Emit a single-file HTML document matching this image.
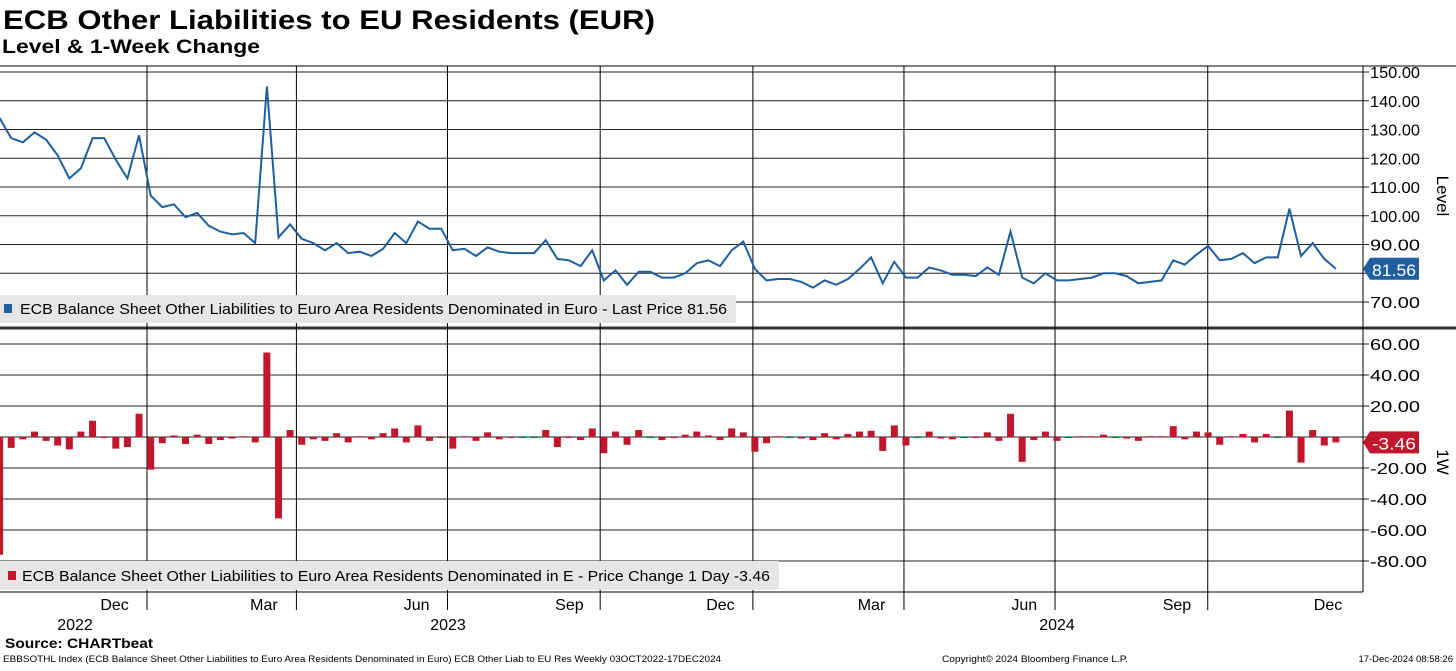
<!DOCTYPE html>
<html><head><meta charset="utf-8"><style>
body{margin:0;background:#fff;width:1456px;height:666px;overflow:hidden;font-family:"Liberation Sans","DejaVu Sans",sans-serif}
svg text{font-family:"Liberation Sans","DejaVu Sans",sans-serif}
</style></head><body>
<svg id="c" width="1456" height="666" xmlns="http://www.w3.org/2000/svg">
<text x="3" y="29" font-size="27" font-weight="bold" textLength="652" lengthAdjust="spacingAndGlyphs">ECB Other Liabilities to EU Residents (EUR)</text>
<text x="2" y="53" font-size="19" font-weight="bold" textLength="258" lengthAdjust="spacingAndGlyphs">Level &amp; 1-Week Change</text>
<g id="grid"></g>
<g id="marks"></g>
<g id="axes"></g>
<text x="5" y="648" font-size="14" font-weight="bold" textLength="148" lengthAdjust="spacingAndGlyphs">Source: CHARTbeat</text>
<text x="3" y="662" font-size="9.5" textLength="718" lengthAdjust="spacingAndGlyphs">EBBSOTHL Index (ECB Balance Sheet Other Liabilities to Euro Area Residents Denominated in Euro) ECB Other Liab to EU Res  Weekly 03OCT2022-17DEC2024</text>
<text x="942" y="662" font-size="9.5" textLength="186" lengthAdjust="spacingAndGlyphs">Copyright© 2024 Bloomberg Finance L.P.</text>
<text x="1453" y="662" font-size="9.5" text-anchor="end">17-Dec-2024 08:58:26</text>
</svg>
<script>
const startDate = "2022-10-03";
const levels = [134,127,125.5,129,126.5,121,113,116.5,127,127,119.5,113,128,107,103,104,99.5,101,96.5,94.5,93.5,94,90.5,145,92.5,97,92,90.5,88,90.5,87,87.5,86,88.5,94,90.5,98,95.5,95.5,88,88.5,86,89,87.5,87,87,87,91.5,85,84.5,82.5,88,77.5,81,76,80.5,80.5,78.5,78.5,80,83.5,84.5,82.5,88,91,81.5,77.5,78,78,77,75,77.5,76,78,81.5,85.5,76.5,84,78.5,78.5,82,81,79.5,79.5,79,82,79.5,94.5,78.5,76.5,80,77.5,77.5,78,78.5,80,80,79,76.5,77,77.5,84.5,83,86.5,89.5,84.5,85,87,83.5,85.5,85.5,102.5,86,90.5,85,81.56];
const changes = [-76,-7,-1.5,3.5,-2.5,-5.5,-8,3.5,10.5,0,-7.5,-6.5,15,-21,-4,1,-4.5,1.5,-4.5,-2,-1,0.5,-3.5,54.5,-52.5,4.5,-5,-1.5,-2.5,2.5,-3.5,0.5,-1.5,2.5,5.5,-3.5,7.5,-2.5,0,-7.5,0.5,-2.5,3,-1.5,-0.5,0,0,4.5,-6.5,-0.5,-2,5.5,-10.5,3.5,-5,4.5,0,-2,0,1.5,3.5,1,-2,5.5,3,-9.5,-4,0.5,0,-1,-2,2.5,-1.5,2,3.5,4,-9,7.5,-5.5,0,3.5,-1,-1.5,0,-0.5,3,-2.5,15,-16,-2,3.5,-2.5,0,0.5,0.5,1.5,0,-1,-2.5,0.5,0.5,7,-1.5,3.5,3,-5,0.5,2,-3.5,2,0,17,-16.5,4.5,-5.5,-3.46];
const levelTicks = [150,140,130,120,110,100,90,80,70];
const changeTicks = [60,40,20,0,-20,-40,-60,-80];
const monthLabels = [["Dec","2022-12-01"],["Mar","2023-03-01"],["Jun","2023-06-01"],["Sep","2023-09-01"],["Dec","2023-12-01"],["Mar","2024-03-01"],["Jun","2024-06-01"],["Sep","2024-09-01"],["Dec","2024-12-01"]];
const quarterLines = ["2023-01-01","2023-04-01","2023-07-01","2023-10-01","2024-01-01","2024-04-01","2024-07-01","2024-10-01"];
const yearLabels = [["2022",75],["2023",448],["2024",1057]];

const NS="http://www.w3.org/2000/svg";
const day=864e5, t0=Date.parse("2023-01-01");
const xd = d => 147 + (Date.parse(d)-t0)/day*1.66;
const xi = i => xd(startDate) + i*7*1.66 + 2;
const yL = v => 72 + (150-v)*2.875;
const yC = v => 437 - v*1.55;
const AX=1363;
function mk(tag,attrs,parent,name,text){const e=document.createElementNS(NS,tag);for(const k in attrs)e.setAttribute(k,attrs[k]);


if(text!==undefined)e.textContent=text;document.getElementById(parent).appendChild(e);return e;}

mk('line',{x1:0,x2:1456,y1:66,y2:66,stroke:'#000','stroke-width':1},'grid','top-border');
mk('line',{x1:0,x2:1456,y1:328,y2:328,stroke:'#333','stroke-width':3},'grid','panel-separator');
mk('line',{x1:0,x2:AX,y1:592,y2:592,stroke:'#000','stroke-width':1},'grid','x-axis-line');
mk('line',{x1:AX,x2:AX,y1:66,y2:592,stroke:'#000','stroke-width':1},'axes','y-axis-line');
levelTicks.forEach(v=>{const y=yL(v);
 mk('line',{x1:0,x2:AX+6,y1:y,y2:y,stroke:'#222','stroke-width':1},'grid','level-gridline');
 if(v!==80)mk('text',{x:AX+7,y:y+6,'font-size':16,textLength:50,lengthAdjust:'spacingAndGlyphs'},'axes','level-tick-label',v.toFixed(2));});
changeTicks.forEach(v=>{const y=yC(v);
 mk('line',{x1:0,x2:AX+6,y1:y,y2:y,stroke:'#222','stroke-width':1},'grid','change-gridline');
 if(v!==0)mk('text',{x:AX+7,y:y+6,'font-size':16,textLength:(v<0?57:50),lengthAdjust:'spacingAndGlyphs'},'axes','change-tick-label',v.toFixed(2));});
quarterLines.forEach(d=>{const x=xd(d);mk('line',{x1:x,x2:x,y1:66,y2:592,stroke:'#000','stroke-width':1},'grid','quarter-gridline');
 mk('line',{x1:x,x2:x,y1:592,y2:610,stroke:'#000','stroke-width':1},'grid','quarter-tick');});
monthLabels.forEach(([m,d])=>{mk('text',{x:xd(d)+19,y:610,'font-size':16,'text-anchor':'middle'},'axes','month-label',m);});
yearLabels.forEach(([y,x])=>mk('text',{x:x,y:630,'font-size':16,'text-anchor':'middle'},'axes','year-label',y));
mk('text',{x:1437,y:196,'font-size':17,transform:'rotate(90 1437 196)','text-anchor':'middle'},'axes','level-axis-title','Level');
mk('text',{x:1437,y:462,'font-size':17,transform:'rotate(90 1437 462)','text-anchor':'middle'},'axes','change-axis-title','1W');

changes.forEach((v,i)=>{const x=xi(i),y0=yC(0),y1=yC(v);
 mk('rect',{x:x-3.5,y:Math.min(y0,y1),width:7,height:Math.max(1,Math.abs(y1-y0)),fill:'#c0172d'},'marks','change-bar');});
mk('path',{d:levels.map((v,i)=>(i?'L':'M')+xi(i).toFixed(1)+' '+yL(v).toFixed(1)).join(' '),fill:'none',stroke:'#1f5fa0','stroke-width':2},'marks','level-line');

mk('rect',{x:0,y:295,width:736,height:28,fill:'#e6e6e6'},'marks','level-legend-box');
mk('rect',{x:4,y:304,width:8,height:9,fill:'#1f5fa0'},'marks','level-legend-swatch');
mk('text',{x:20,y:314,'font-size':15,textLength:707,lengthAdjust:'spacingAndGlyphs'},'marks','level-legend-text','ECB Balance Sheet Other Liabilities to Euro Area Residents Denominated in Euro - Last Price 81.56');
mk('rect',{x:0,y:561,width:779,height:29,fill:'#e6e6e6'},'marks','change-legend-box');
mk('rect',{x:8,y:571,width:8,height:9,fill:'#c0172d'},'marks','change-legend-swatch');
mk('text',{x:22,y:581,'font-size':15,textLength:748,lengthAdjust:'spacingAndGlyphs'},'marks','change-legend-text','ECB Balance Sheet Other Liabilities to Euro Area Residents Denominated in E - Price Change 1 Day -3.46');

const lastL=levels[levels.length-1], lastC=changes[changes.length-1];
let y=yL(lastL);
mk('path',{d:`M${AX} ${y} L${AX+7} ${y-11} L${AX+56} ${y-11} L${AX+56} ${y+11} L${AX+7} ${y+11} Z`,fill:'#1f5fa0'},'marks','level-last-tag');
mk('text',{x:AX+9,y:y+7,'font-size':17,fill:'#fff',textLength:44,lengthAdjust:'spacingAndGlyphs'},'marks','level-last-value',lastL.toFixed(2));
y=yC(lastC);
mk('path',{d:`M${AX} ${y} L${AX+7} ${y-11} L${AX+56} ${y-11} L${AX+56} ${y+11} L${AX+7} ${y+11} Z`,fill:'#c0172d'},'marks','change-last-tag');
mk('text',{x:AX+9,y:y+7,'font-size':17,fill:'#fff',textLength:44,lengthAdjust:'spacingAndGlyphs'},'marks','change-last-value',lastC.toFixed(2));
</script>
</body></html>
